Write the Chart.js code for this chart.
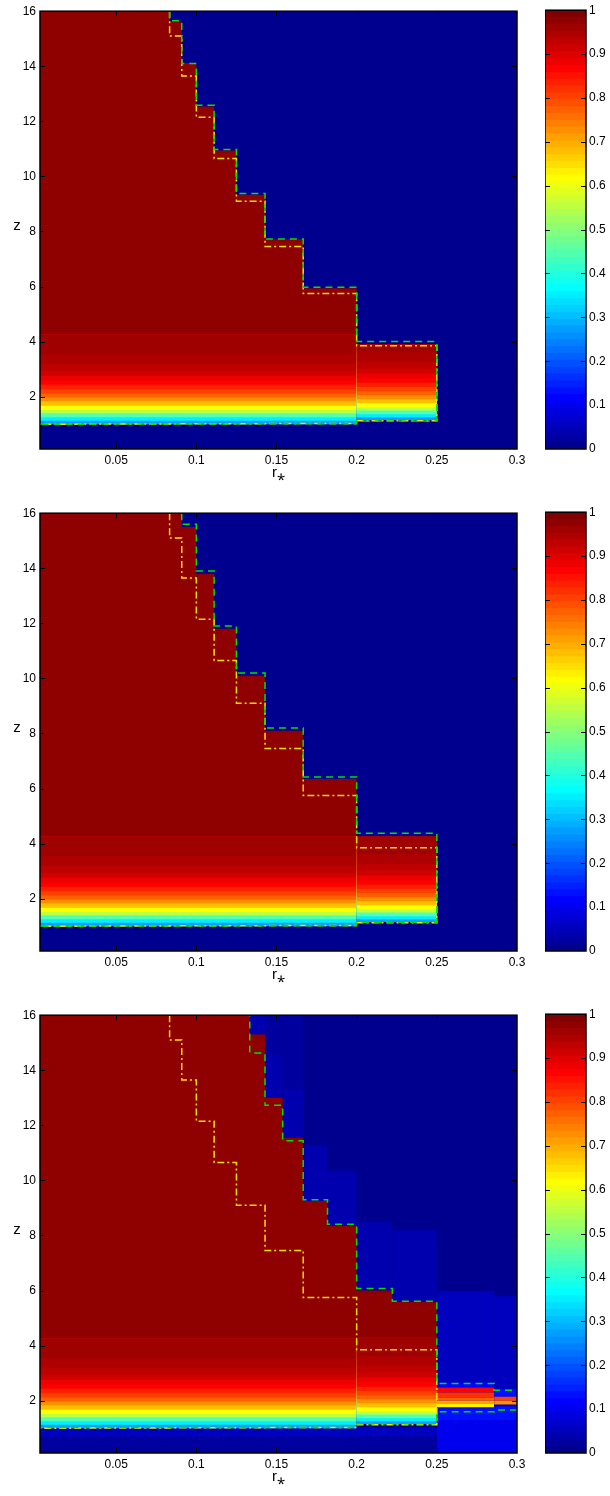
<!DOCTYPE html>
<html lang="en">
<head>
<meta charset="UTF-8">
<title>Maps over r* and z</title>
<script src="https://cdn.jsdelivr.net/npm/chart.js"></script>
<style>
  body { margin: 0; background: #fff; width: 610px; height: 1496px; position: relative; overflow: hidden; }
  .box { position: absolute; }
  canvas { display: block; }
</style>
</head>
<body>
<div class="box" style="left:0;top:0"><canvas id="map1" width="530" height="490"></canvas></div>
<div class="box" style="left:545px;top:0"><canvas id="bar1" width="65" height="490"></canvas></div>
<div class="box" style="left:0;top:502px"><canvas id="map2" width="530" height="490"></canvas></div>
<div class="box" style="left:545px;top:502px"><canvas id="bar2" width="65" height="490"></canvas></div>
<div class="box" style="left:0;top:1004px"><canvas id="map3" width="530" height="490"></canvas></div>
<div class="box" style="left:545px;top:1004px"><canvas id="bar3" width="65" height="490"></canvas></div>

<script>
// axis ranges and ticks
const rMin = 0.0025, rMax = 0.3, zMin = 0.1, zMax = 16;
const rTicks = [0.05, 0.1, 0.15, 0.2, 0.25, 0.3];
const zTicks = [2, 4, 6, 8, 10, 12, 14, 16];
const cbTicks = [0, 0.1, 0.2, 0.3, 0.4, 0.5, 0.6, 0.7, 0.8, 0.9, 1];

// value of the saturated region and the colour band near the bottom
const redV = 0.98;
const rSplit = 0.2, rEnd = 0.25;
const gradZ  = [1.0, 1.13, 1.25, 1.40, 1.52, 1.67, 1.83, 1.97, 2.12, 2.27, 2.43, 2.58, 2.76, 2.94, 3.18, 3.54, 4.26];
const gradZR = [1.15, 1.25, 1.36, 1.50, 1.61, 1.76, 1.91, 2.05, 2.20, 2.35, 2.51, 2.66, 2.84, 3.02, 3.26, 3.61, 4.30];
const gradV  = [0.27, 0.35, 0.45, 0.55, 0.62, 0.68, 0.73, 0.77, 0.80, 0.84, 0.87, 0.89, 0.91, 0.925, 0.945, 0.96];

// dash-dot contour, same in all three maps
const yellowPath = [[1/12,16],[1/12,15.1],[1/11,15.1],[1/11,13.65],[1/10,13.65],[1/10,12.15],[1/9,12.15],[1/9,10.65],
  [1/8,10.65],[1/8,9.1],[1/7,9.1],[1/7,7.45],[1/6,7.45],[1/6,5.75],[0.2,5.75],[0.2,3.85],[0.25,3.85],[0.25,1.13],
  [0.2,1.13],[0.2,1.03],[rMin,1.0]];

// panel 1
const p1Edges = [rMin, 1/12, 1/11, 1/10, 1/9, 1/8, 1/7, 1/6, 0.2, 0.25];
const p1Top = [16, 15.63, 14.12, 12.54, 10.94, 9.33, 7.72, 5.94, 3.9];
const p1Cells = [];
const p1Green = [[[1/12,16],[1/12,15.65],[1/11,15.65],[1/11,14.1],[1/10,14.1],[1/10,12.58],[1/9,12.58],[1/9,10.98],
  [1/8,10.98],[1/8,9.38],[1/7,9.38],[1/7,7.73],[1/6,7.73],[1/6,5.97],[0.2,5.97],[0.2,4.0],[0.25,4.0],[0.25,1.12],
  [0.2,1.12],[0.2,1.02],[rMin,1.0]]];

// panel 2
const p2Edges = [rMin, 1/11, 1/10, 1/9, 1/8, 1/7, 1/6, 0.2, 0.25];
const p2Top = [16, 15.5, 13.8, 11.8, 10.1, 8.1, 6.35, 4.28];
const p2Cells = [];
const p2Green = [[[1/11,16],[1/11,15.6],[1/10,15.6],[1/10,13.9],[1/9,13.9],[1/9,11.9],[1/8,11.9],[1/8,10.2],
  [1/7,10.2],[1/7,8.2],[1/6,8.2],[1/6,6.42],[0.2,6.42],[0.2,4.38],[0.25,4.38],[0.25,1.14],[0.2,1.14],
  [0.2,1.02],[rMin,1.0]]];

// panel 3
const p3Edges = [rMin, 2/15, 1/7, 2/13, 1/6, 2/11, 0.2, 2/9, 0.25];
const p3Top = [16, 15.3, 13.0, 11.55, 9.25, 8.35, 6.0, 5.58];
// [r0, r1, z0, z1, value]
const p3Cells = [
  [rMin, 0.25, 0.1, 1.03, 0.03],
  [rMin, 0.25, 0.7, 1.03, 0.05],
  [2/15, 1/7, 15.3, 16, 0.04],
  [1/7, 2/13, 14.57, 16, 0.02],
  [1/7, 2/13, 13.0, 14.57, 0.04],
  [2/13, 1/6, 13.3, 16, 0.02],
  [2/13, 1/6, 11.55, 13.3, 0.04],
  [1/6, 2/11, 9.25, 11.26, 0.04],
  [2/11, 0.2, 8.35, 10.36, 0.04],
  [0.2, 2/9, 6.0, 8.49, 0.04],
  [2/9, 0.25, 5.58, 8.19, 0.04],
  [0.25, 2/7, 0.1, 5.97, 0.06],
  [2/7, 0.3, 0.1, 5.79, 0.06],
  [0.25, 0.3, 0.1, 1.3, 0.1],
  [0.25, 0.3, 1.3, 1.8, 0.13],
  [0.25, 2/7, 2.48, 2.66, 0.12],
  [2/7, 0.3, 2.14, 2.42, 0.13],
  [0.25, 2/7, 2.30, 2.48, 0.87],
  [0.25, 2/7, 2.12, 2.30, 0.82],
  [0.25, 2/7, 2.0, 2.12, 0.77],
  [0.25, 2/7, 1.88, 2.0, 0.71],
  [0.25, 2/7, 1.76, 1.88, 0.64],
  [2/7, 0.3, 2.0, 2.14, 0.8],
  [2/7, 0.3, 1.86, 2.0, 0.72]
];
const p3Green = [
  [[rMin,16],[2/15,16],[2/15,14.63],[1/7,14.63],[1/7,12.73],[2/13,12.73],[2/13,11.44],[1/6,11.44],[1/6,9.3],
   [2/11,9.3],[2/11,8.41],[0.2,8.41],[0.2,6.07],[2/9,6.07],[2/9,5.61],[0.25,5.61],[0.25,2.62],[2/7,2.62],
   [2/7,2.38],[0.3,2.38]],
  [[0.3,1.66],[2/7,1.66],[2/7,1.6],[0.25,1.6],[0.25,1.16],[0.2,1.16],[0.2,1.03],[rMin,1.03]]
];

Chart.defaults.font.family = '"Liberation Sans", Arial, sans-serif';
Chart.defaults.color = '#000';

// MATLAB jet(64)
function jet(v) {
  const i = Math.max(0, Math.min(63, Math.floor(v * 64)));
  const x = (i + 1) / 64;
  const c = t => Math.round(255 * Math.max(0, Math.min(1, 1.5 - Math.abs(4 * x - t))));
  return 'rgb(' + c(3) + ',' + c(2) + ',' + c(1) + ')';
}

function rect(r0, r1, z0, z1, v) {
  return { data: [{x: r0, y: z1}, {x: r1, y: z1}], fill: {value: z0}, backgroundColor: jet(v) };
}

function staircase(edges, tops) {
  const pts = [];
  tops.forEach((t, i) => { pts.push({x: edges[i], y: t}, {x: edges[i + 1], y: t}); });
  return pts;
}

function path(pts, color, dash) {
  return { data: pts.map(p => ({x: p[0], y: p[1]})), fill: false, borderColor: color, borderWidth: 1.5, borderDash: dash };
}

function mapDatasets(edges, tops, cells, greens) {
  const ds = [rect(rMin, rMax, zMin, zMax, 0)];
  cells.forEach(c => ds.push(rect(c[0], c[1], c[2], c[3], c[4])));
  ds.push({ data: staircase(edges, tops), fill: {value: gradZR[0]}, backgroundColor: jet(redV) });
  const topL = gradZ[gradZ.length - 1];
  const topR = Math.min(gradZR[gradZR.length - 1], tops[tops.length - 1]);
  gradV.forEach((v, k) => ds.push(rect(rMin, rSplit, gradZ[k], topL, v)));
  gradV.forEach((v, k) => ds.push(rect(rSplit, rEnd, gradZR[k], topR, v)));
  ds.push(path(yellowPath, 'rgb(255,225,0)', [7, 3, 2, 3]));
  greens.forEach(g => ds.push(path(g, 'rgb(0,225,0)', [7, 5])));
  return ds.map((d, i) => Object.assign({ order: -i, pointRadius: 0, borderWidth: 0, borderColor: 'rgba(0,0,0,0)' }, d));
}

// box, inward ticks and upright axis letter
function framePlugin(xT, yT, label) {
  return {
    id: 'frame',
    afterDraw(chart) {
      const { ctx, chartArea: a } = chart;
      ctx.save();
      ctx.strokeStyle = '#000';
      ctx.lineWidth = 1;
      ctx.beginPath();
      xT.forEach(v => {
        const p = Math.round(chart.scales.x.getPixelForValue(v)) + 0.5;
        ctx.moveTo(p, a.bottom); ctx.lineTo(p, a.bottom - 5);
        ctx.moveTo(p, a.top); ctx.lineTo(p, a.top + 5);
      });
      yT.forEach(v => {
        const p = Math.round(chart.scales.y.getPixelForValue(v)) + 0.5;
        ctx.moveTo(a.left, p); ctx.lineTo(a.left + 5, p);
        ctx.moveTo(a.right, p); ctx.lineTo(a.right - 5, p);
      });
      ctx.stroke();
      ctx.lineWidth = 1.5;
      ctx.strokeRect(a.left, a.top, a.width, a.height);
      if (label) {
        ctx.fillStyle = '#000';
        ctx.font = '15px "Liberation Sans", Arial, sans-serif';
        ctx.textAlign = 'center';
        ctx.textBaseline = 'middle';
        ctx.fillText(label, 17, (a.top + a.bottom) / 2 - 4);
      }
      ctx.restore();
    }
  };
}

function makeMap(id, datasets) {
  new Chart(document.getElementById(id), {
    type: 'line',
    data: { datasets },
    options: {
      responsive: false, animation: false, events: [],
      layout: { padding: { top: 8, right: 13, left: 0, bottom: 0 } },
      plugins: { legend: { display: false }, tooltip: { enabled: false } },
      scales: {
        x: {
          type: 'linear', min: rMin, max: rMax,
          afterBuildTicks: s => { s.ticks = rTicks.map(v => ({ value: v })); },
          afterFit: s => { s.height = 41; },
          grid: { display: false, drawTicks: false },
          border: { display: false },
          ticks: { padding: 4, maxRotation: 0, autoSkip: false, font: { size: 12 }, callback: v => String(v) },
          title: { display: true, text: 'r⁎', font: { size: 15 }, padding: { top: 0, bottom: 8 } }
        },
        y: {
          type: 'linear', min: zMin, max: zMax,
          afterBuildTicks: s => { s.ticks = zTicks.map(v => ({ value: v })); },
          afterFit: s => { s.width = 40; },
          grid: { display: false, drawTicks: false },
          border: { display: false },
          ticks: { padding: 4, autoSkip: false, font: { size: 12 }, callback: v => String(v) }
        }
      }
    },
    plugins: [framePlugin(rTicks.slice(0, -1), zTicks.slice(0, -1), 'z')]
  });
}

function makeBar(id) {
  const ds = [];
  for (let i = 0; i < 64; i++) ds.push(rect(0, 1, i / 64, 1, (i + 0.5) / 64));
  new Chart(document.getElementById(id), {
    type: 'line',
    data: { datasets: ds.map((d, i) => Object.assign({ order: -i, pointRadius: 0, borderWidth: 0, borderColor: 'rgba(0,0,0,0)' }, d)) },
    options: {
      responsive: false, animation: false, events: [],
      layout: { padding: { top: 8, right: 0, left: 0, bottom: 41 } },
      plugins: { legend: { display: false }, tooltip: { enabled: false } },
      scales: {
        x: { type: 'linear', min: 0, max: 1, display: false },
        y: {
          type: 'linear', position: 'right', min: 0, max: 1,
          afterBuildTicks: s => { s.ticks = cbTicks.map(v => ({ value: v })); },
          afterFit: s => { s.width = 24; },
          grid: { display: false, drawTicks: false },
          border: { display: false },
          ticks: { padding: 3, autoSkip: false, font: { size: 12 }, callback: v => String(v) }
        }
      }
    },
    plugins: [framePlugin([], cbTicks.slice(1, -1), null)]
  });
}

makeMap('map1', mapDatasets(p1Edges, p1Top, p1Cells, p1Green));
makeMap('map2', mapDatasets(p2Edges, p2Top, p2Cells, p2Green));
makeMap('map3', mapDatasets(p3Edges, p3Top, p3Cells, p3Green));
makeBar('bar1');
makeBar('bar2');
makeBar('bar3');
</script>
</body>
</html>
